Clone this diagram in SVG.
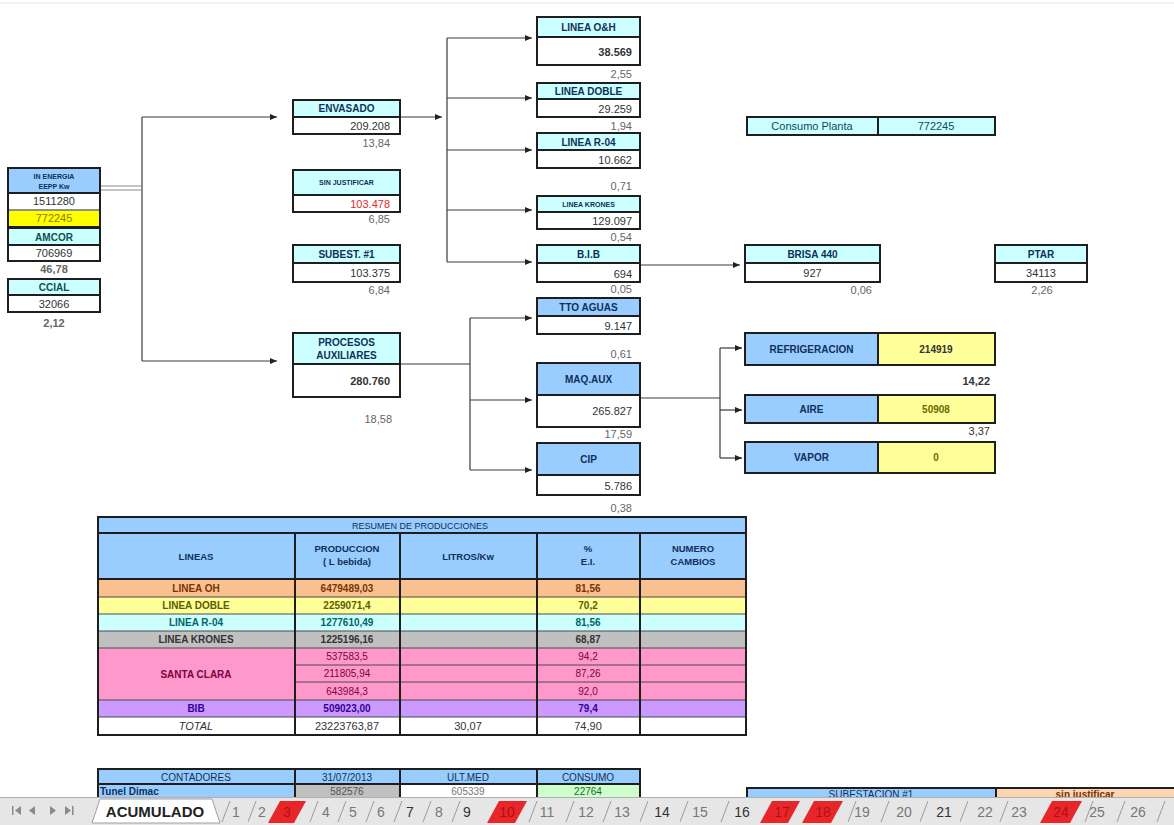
<svg xmlns="http://www.w3.org/2000/svg" width="1174" height="825" viewBox="0 0 1174 825">
<style>
text{font-family:"Liberation Sans",Arial,sans-serif}
.bx{stroke:#1e1e1e;stroke-width:2}
.cy{fill:#ccffff}
.bl{fill:#99ccff}
.wh{fill:#ffffff}
.ye{fill:#ffff99}
.lb{font-size:10px;font-weight:bold;fill:#10305a;text-anchor:middle}
.lbs{font-size:7px;font-weight:bold;fill:#10305a;text-anchor:middle}
.nv{font-size:11px;fill:#333;text-anchor:end}
.nc{font-size:11px;fill:#333;text-anchor:middle}
.pc{font-size:11px;fill:#666;text-anchor:end}
.pcc{font-size:11px;fill:#666;text-anchor:middle}
.cn{fill:none;stroke:#3a3a3a;stroke-width:1.2}
.th{font-size:9.5px;font-weight:bold;fill:#10305a;text-anchor:middle}
.tr{font-size:10px;font-weight:bold;text-anchor:middle}
.tab{font-size:14px;fill:#777;text-anchor:middle}
.sep{stroke:#9a9a9a;stroke-width:1}
.rt{fill:#e8262a}
</style>
<defs>
<marker id="ar" markerWidth="8" markerHeight="8" refX="7" refY="4" orient="auto" markerUnits="userSpaceOnUse">
<path d="M0,1 L7,4 L0,7 Z" fill="#222"/>
</marker>
</defs>
<rect width="1174" height="825" fill="#fff"/>
<line x1="0" y1="3" x2="1174" y2="3" stroke="#e3e3e3" stroke-width="1"/>

<g id="connectors">
<line x1="100" y1="186" x2="141" y2="186" stroke="#8a8a8a" stroke-width="1.2"/>
<line x1="100" y1="190" x2="141" y2="190" stroke="#8a8a8a" stroke-width="1.2"/>
<line class="cn" x1="142" y1="117" x2="142" y2="361"/>
<line class="cn" x1="142" y1="117" x2="277" y2="117" marker-end="url(#ar)"/>
<line class="cn" x1="142" y1="361" x2="277" y2="361" marker-end="url(#ar)"/>
<line class="cn" x1="400" y1="117" x2="442" y2="117" marker-end="url(#ar)"/>
<line class="cn" x1="447" y1="38" x2="447" y2="262"/>
<line class="cn" x1="447" y1="38" x2="532" y2="38" marker-end="url(#ar)"/>
<line class="cn" x1="447" y1="98" x2="532" y2="98" marker-end="url(#ar)"/>
<line class="cn" x1="447" y1="150" x2="532" y2="150" marker-end="url(#ar)"/>
<line class="cn" x1="447" y1="210" x2="532" y2="210" marker-end="url(#ar)"/>
<line class="cn" x1="447" y1="262" x2="532" y2="262" marker-end="url(#ar)"/>
<line class="cn" x1="640" y1="265" x2="740" y2="265" marker-end="url(#ar)"/>
<line class="cn" x1="400" y1="364" x2="470" y2="364"/>
<line class="cn" x1="470" y1="318" x2="470" y2="470"/>
<line class="cn" x1="470" y1="318" x2="532" y2="318" marker-end="url(#ar)"/>
<line class="cn" x1="470" y1="400" x2="532" y2="400" marker-end="url(#ar)"/>
<line class="cn" x1="470" y1="470" x2="532" y2="470" marker-end="url(#ar)"/>
<line class="cn" x1="640" y1="398" x2="720" y2="398"/>
<line class="cn" x1="720" y1="348" x2="720" y2="458"/>
<line class="cn" x1="720" y1="348" x2="742" y2="348" marker-end="url(#ar)"/>
<line class="cn" x1="720" y1="410" x2="742" y2="410" marker-end="url(#ar)"/>
<line class="cn" x1="720" y1="458" x2="742" y2="458" marker-end="url(#ar)"/>
</g>

<g id="in-energia">
<rect class="bx wh" x="8" y="168" width="92" height="59"/>
<rect class="bx bl" x="8" y="168" width="92" height="25"/>
<rect x="9" y="211" width="90" height="15" fill="#ffff00"/>
<line x1="8" y1="210" x2="100" y2="210" stroke="#1e1e1e" stroke-width="1"/>
<text class="lbs" x="54" y="179" font-size="6.5">IN ENERGIA</text>
<text class="lbs" x="54" y="189" font-size="6.5">EEPP Kw</text>
<text class="nc" x="54" y="205">1511280</text>
<text class="nc" x="54" y="222" fill="#8a7a00" style="fill:#8a7a00">772245</text>
</g>
<g id="amcor">
<rect class="bx wh" x="8" y="228" width="92" height="33"/>
<rect class="bx cy" x="8" y="228" width="92" height="17"/>
<text class="lb" x="54" y="241" style="fill:#0d5050">AMCOR</text>
<text class="nc" x="54" y="257">706969</text>
<text class="pcc" x="54" y="273" style="font-weight:bold">46,78</text>
</g>
<g id="ccial">
<rect class="bx wh" x="8" y="279" width="92" height="33"/>
<rect class="bx cy" x="8" y="279" width="92" height="16"/>
<text class="lb" x="54" y="291" style="fill:#0d5050">CCIAL</text>
<text class="nc" x="54" y="308">32066</text>
<text class="pcc" x="54" y="327" style="font-weight:bold">2,12</text>
</g>

<g id="envasado">
<rect class="bx wh" x="293" y="100" width="107" height="34"/>
<rect class="bx cy" x="293" y="100" width="107" height="17"/>
<text class="lb" x="346.5" y="112">ENVASADO</text>
<text class="nv" x="390" y="130">209.208</text>
<text class="pc" x="390" y="147">13,84</text>
</g>
<g id="sin-justificar">
<rect class="bx wh" x="293" y="170" width="107" height="42"/>
<rect class="bx cy" x="293" y="170" width="107" height="25"/>
<text class="lbs" x="346.5" y="185">SIN JUSTIFICAR</text>
<text class="nv" x="390" y="208" style="fill:#e8262a">103.478</text>
<text class="pc" x="390" y="223">6,85</text>
</g>
<g id="subest1">
<rect class="bx wh" x="293" y="245" width="107" height="37"/>
<rect class="bx cy" x="293" y="245" width="107" height="18"/>
<text class="lb" x="346.5" y="258">SUBEST. #1</text>
<text class="nv" x="390" y="277">103.375</text>
<text class="pc" x="390" y="294">6,84</text>
</g>
<g id="procesos-auxiliares">
<rect class="bx wh" x="293" y="333" width="107" height="64"/>
<rect class="bx cy" x="293" y="333" width="107" height="31"/>
<text class="lb" x="346.5" y="346">PROCESOS</text>
<text class="lb" x="346.5" y="359">AUXILIARES</text>
<text class="nv" x="390" y="385" style="font-weight:bold">280.760</text>
<text class="pc" x="392" y="423">18,58</text>
</g>

<g id="linea-oh">
<rect class="bx wh" x="537" y="17" width="103" height="48"/>
<rect class="bx cy" x="537" y="17" width="103" height="20"/>
<text class="lb" x="588.5" y="31">LINEA O&amp;H</text>
<text class="nv" x="632" y="56" style="font-weight:bold">38.569</text>
<text class="pc" x="632" y="78">2,55</text>
</g>
<g id="linea-doble">
<rect class="bx wh" x="537" y="83" width="103" height="34"/>
<rect class="bx cy" x="537" y="83" width="103" height="16"/>
<text class="lb" x="588.5" y="95">LINEA DOBLE</text>
<text class="nv" x="632" y="113">29.259</text>
<text class="pc" x="632" y="130">1,94</text>
</g>
<g id="linea-r04">
<rect class="bx wh" x="537" y="133" width="103" height="35"/>
<rect class="bx cy" x="537" y="133" width="103" height="17"/>
<text class="lb" x="588.5" y="146">LINEA R-04</text>
<text class="nv" x="632" y="164">10.662</text>
<text class="pc" x="632" y="190">0,71</text>
</g>
<g id="linea-krones">
<rect class="bx wh" x="537" y="196" width="103" height="33"/>
<rect class="bx cy" x="537" y="196" width="103" height="16"/>
<text class="lbs" x="588.5" y="207">LINEA KRONES</text>
<text class="nv" x="632" y="225">129.097</text>
<text class="pc" x="632" y="241">0,54</text>
</g>
<g id="bib">
<rect class="bx wh" x="537" y="245" width="103" height="37"/>
<rect class="bx cy" x="537" y="245" width="103" height="18"/>
<text class="lb" x="588.5" y="258">B.I.B</text>
<text class="nv" x="632" y="278">694</text>
<text class="pc" x="632" y="293">0,05</text>
</g>
<g id="tto-aguas">
<rect class="bx wh" x="537" y="298" width="103" height="36"/>
<rect class="bx bl" x="537" y="298" width="103" height="18"/>
<text class="lb" x="588.5" y="311">TTO AGUAS</text>
<text class="nv" x="632" y="330">9.147</text>
<text class="pc" x="632" y="358">0,61</text>
</g>
<g id="maq-aux">
<rect class="bx wh" x="537" y="363" width="103" height="64"/>
<rect class="bx bl" x="537" y="363" width="103" height="32"/>
<text class="lb" x="588.5" y="383">MAQ.AUX</text>
<text class="nv" x="632" y="415">265.827</text>
<text class="pc" x="632" y="438">17,59</text>
</g>
<g id="cip">
<rect class="bx wh" x="537" y="443" width="103" height="52"/>
<rect class="bx bl" x="537" y="443" width="103" height="32"/>
<text class="lb" x="588.5" y="463">CIP</text>
<text class="nv" x="632" y="490">5.786</text>
<text class="pc" x="632" y="512">0,38</text>
</g>

<g id="consumo-planta">
<rect class="bx cy" x="747" y="117" width="248" height="18"/>
<line x1="878" y1="117" x2="878" y2="135" stroke="#1e1e1e" stroke-width="2"/>
<text x="812" y="130" font-size="11" fill="#0d4a5a" text-anchor="middle">Consumo Planta</text>
<text x="936" y="130" font-size="11" fill="#0d4a5a" text-anchor="middle">772245</text>
</g>
<g id="brisa-440">
<rect class="bx wh" x="745" y="245" width="135" height="37"/>
<rect class="bx cy" x="745" y="245" width="135" height="18"/>
<text class="lb" x="812.5" y="258">BRISA 440</text>
<text class="nc" x="812.5" y="277">927</text>
<text class="pc" x="872" y="294">0,06</text>
</g>
<g id="ptar">
<rect class="bx wh" x="995" y="245" width="92" height="37"/>
<rect class="bx cy" x="995" y="245" width="92" height="18"/>
<text class="lb" x="1041" y="258">PTAR</text>
<text class="nc" x="1041" y="277">34113</text>
<text class="pcc" x="1042" y="294">2,26</text>
</g>
<g id="refrigeracion">
<rect class="bx ye" x="745" y="333" width="250" height="32"/>
<rect class="bx bl" x="745" y="333" width="133" height="32"/>
<text class="lb" x="811.5" y="353">REFRIGERACION</text>
<text class="lb" x="936" y="353" style="fill:#333">214919</text>
<text class="pc" x="990" y="385" style="font-weight:bold;fill:#333">14,22</text>
</g>
<g id="aire">
<rect class="bx ye" x="745" y="395" width="250" height="28"/>
<rect class="bx bl" x="745" y="395" width="133" height="28"/>
<text class="lb" x="811.5" y="413">AIRE</text>
<text class="lb" x="936" y="413" style="fill:#6a6a00">50908</text>
<text class="pc" x="990" y="435" style="fill:#333">3,37</text>
</g>
<g id="vapor">
<rect class="bx ye" x="745" y="442" width="250" height="31"/>
<rect class="bx bl" x="745" y="442" width="133" height="31"/>
<text class="lb" x="811.5" y="461">VAPOR</text>
<text class="lb" x="936" y="461" style="fill:#6a6a00">0</text>
</g>

<g id="resumen-producciones">
<rect x="98" y="517" width="648" height="62" fill="#99ccff"/>
<rect x="98" y="579" width="648" height="18" fill="#fac090"/>
<rect x="98" y="597" width="648" height="17" fill="#ffff99"/>
<rect x="98" y="614" width="648" height="17" fill="#ccffff"/>
<rect x="98" y="631" width="648" height="17" fill="#c0c0c0"/>
<rect x="98" y="648" width="648" height="52" fill="#ff99cc"/>
<rect x="98" y="700" width="648" height="17" fill="#cc99ff"/>
<rect x="98" y="717" width="648" height="18" fill="#ffffff"/>
<g stroke="#4a4a4a" stroke-width="1">
<line x1="98" y1="597" x2="746" y2="597"/>
<line x1="98" y1="614" x2="746" y2="614"/>
<line x1="98" y1="631" x2="746" y2="631"/>
<line x1="98" y1="648" x2="746" y2="648"/>
<line x1="295" y1="665" x2="746" y2="665"/>
<line x1="295" y1="682" x2="746" y2="682"/>
<line x1="98" y1="700" x2="746" y2="700"/>
<line x1="98" y1="717" x2="746" y2="717"/>
</g>
<g stroke="#1e1e1e" stroke-width="2" fill="none">
<rect x="98" y="517" width="648" height="218"/>
<line x1="98" y1="533" x2="746" y2="533"/>
<line x1="98" y1="579" x2="746" y2="579"/>
<line x1="295" y1="533" x2="295" y2="735"/>
<line x1="400" y1="533" x2="400" y2="735"/>
<line x1="537" y1="533" x2="537" y2="735"/>
<line x1="640" y1="533" x2="640" y2="735"/>
</g>
<text x="420" y="529" font-size="9" fill="#10305a" text-anchor="middle">RESUMEN DE PRODUCCIONES</text>
<text class="th" x="196" y="560">LINEAS</text>
<text class="th" x="347" y="552">PRODUCCION</text>
<text class="th" x="347" y="565">( L bebida)</text>
<text class="th" x="468" y="560">LITROS/Kw</text>
<text class="th" x="588" y="552">%</text>
<text class="th" x="588" y="565">E.I.</text>
<text class="th" x="693" y="552">NUMERO</text>
<text class="th" x="693" y="565">CAMBIOS</text>
<g class="tr" fill="#7a3300"><text x="196" y="592">LINEA OH</text><text x="347" y="592">6479489,03</text><text x="588" y="592">81,56</text></g>
<g class="tr" fill="#5c5c00"><text x="196" y="609">LINEA DOBLE</text><text x="347" y="609">2259071,4</text><text x="588" y="609">70,2</text></g>
<g class="tr" fill="#006666"><text x="196" y="626">LINEA R-04</text><text x="347" y="626">1277610,49</text><text x="588" y="626">81,56</text></g>
<g class="tr" fill="#333333"><text x="196" y="643">LINEA KRONES</text><text x="347" y="643">1225196,16</text><text x="588" y="643">68,87</text></g>
<g class="tr" fill="#800040"><text x="196" y="678">SANTA CLARA</text><text x="347" y="660" font-weight="normal">537583,5</text><text x="347" y="677" font-weight="normal">211805,94</text><text x="347" y="695" font-weight="normal">643984,3</text><text x="588" y="660" font-weight="normal">94,2</text><text x="588" y="677" font-weight="normal">87,26</text><text x="588" y="695" font-weight="normal">92,0</text></g>
<g class="tr" fill="#330099"><text x="196" y="712">BIB</text><text x="347" y="712">509023,00</text><text x="588" y="712">79,4</text></g>
<g font-size="11" fill="#333" text-anchor="middle"><text x="196" y="730" font-style="italic">TOTAL</text><text x="347" y="730">23223763,87</text><text x="468" y="730">30,07</text><text x="588" y="730">74,90</text></g>
</g>

<g id="contadores">
<rect x="98" y="769" width="542" height="15" fill="#99ccff"/>
<rect x="98" y="784" width="197" height="13" fill="#99ccff"/>
<rect x="295" y="784" width="105" height="13" fill="#c0c0c0"/>
<rect x="537" y="784" width="103" height="13" fill="#ccffcc"/>
<g stroke="#1e1e1e" stroke-width="2" fill="none">
<polyline points="98,797 98,769 640,769 640,797"/>
<line x1="98" y1="784" x2="640" y2="784"/>
<line x1="295" y1="769" x2="295" y2="797"/>
<line x1="400" y1="769" x2="400" y2="797"/>
<line x1="537" y1="769" x2="537" y2="797"/>
</g>
<g font-size="10" fill="#10305a" text-anchor="middle"><text x="196" y="781">CONTADORES</text><text x="347" y="781">31/07/2013</text><text x="468" y="781">ULT.MED</text><text x="588" y="781">CONSUMO</text></g>
<text x="100" y="795" font-size="10" font-weight="bold" fill="#10305a">Tunel Dimac</text>
<g font-size="10" text-anchor="middle"><text x="347" y="795" fill="#555">582576</text><text x="468" y="795" fill="#777">605339</text><text x="588" y="795" fill="#1a6a1a">22764</text></g>
</g>
<g id="subestacion-sin-justificar">
<rect x="747" y="788" width="249" height="9" fill="#99ccff"/>
<rect x="996" y="788" width="178" height="9" fill="#fcd5b4"/>
<polyline points="747,797 747,788 1174,788" fill="none" stroke="#1e1e1e" stroke-width="2"/>
<line x1="996" y1="788" x2="996" y2="797" stroke="#1e1e1e" stroke-width="2"/>
<text x="871" y="798" font-size="10" fill="#10305a" text-anchor="middle">SUBESTACION #1</text>
<text x="1085" y="798" font-size="10" font-weight="bold" fill="#7a3300" text-anchor="middle">sin justificar</text>
</g>

<g id="tab-bar">
<rect x="0" y="797" width="1174" height="28" fill="#e6e6e6"/>
<line x1="0" y1="797.5" x2="1174" y2="797.5" stroke="#b0b0b0"/>
<g fill="#8a8a8a">
<rect x="12" y="806" width="1.5" height="9"/><polygon points="21,806 21,815 15,810.5"/>
<polygon points="35,806 35,815 29,810.5"/>
<polygon points="50,806 50,815 56,810.5"/>
<polygon points="65,806 65,815 71,810.5"/><rect x="72" y="806" width="1.5" height="9"/>
</g>
<polygon points="92,823 100,799 212,799 220,823" fill="#ffffff" stroke="#a0a0a0"/>
<text x="155" y="817" font-size="15" font-weight="bold" fill="#222" text-anchor="middle">ACUMULADO</text>
<polygon class="rt" points="268,823 280,801 306,801 294,823"/>
<polygon class="rt" points="487,823 499,801 527,801 515,823"/>
<polygon class="rt" points="760,823 772,801 800,801 788,823"/>
<polygon class="rt" points="802,823 814,801 843,801 831,823"/>
<polygon class="rt" points="1040,823 1052,801 1082,801 1070,823"/>
<g class="sep">
<line x1="222" y1="822" x2="230" y2="801"/><line x1="248" y1="822" x2="256" y2="801"/>
<line x1="310" y1="822" x2="318" y2="801"/><line x1="338" y1="822" x2="346" y2="801"/>
<line x1="366" y1="822" x2="374" y2="801"/><line x1="394" y1="822" x2="402" y2="801"/>
<line x1="423" y1="822" x2="431" y2="801"/><line x1="452" y1="822" x2="460" y2="801"/>
<line x1="529" y1="822" x2="537" y2="801"/><line x1="566" y1="822" x2="574" y2="801"/>
<line x1="603" y1="822" x2="611" y2="801"/><line x1="640" y1="822" x2="648" y2="801"/>
<line x1="680" y1="822" x2="688" y2="801"/><line x1="721" y1="822" x2="729" y2="801"/>
<line x1="848" y1="822" x2="856" y2="801"/><line x1="881" y1="822" x2="889" y2="801"/>
<line x1="920" y1="822" x2="928" y2="801"/><line x1="960" y1="822" x2="968" y2="801"/>
<line x1="1000" y1="822" x2="1008" y2="801"/><line x1="1085" y1="822" x2="1093" y2="801"/>
<line x1="1117" y1="822" x2="1125" y2="801"/><line x1="1157" y1="822" x2="1165" y2="801"/>
</g>
<g class="tab">
<text x="236" y="817">1</text><text x="262" y="817">2</text><text x="287" y="817" fill="#b01010">3</text>
<text x="326" y="817">4</text><text x="353" y="817">5</text><text x="381" y="817">6</text>
<text x="410" y="817" fill="#333">7</text><text x="439" y="817">8</text><text x="467" y="817" fill="#333">9</text>
<text x="507" y="817" fill="#b01010">10</text><text x="547" y="817">11</text><text x="586" y="817">12</text>
<text x="622" y="817">13</text><text x="662" y="817" fill="#333">14</text><text x="700" y="817">15</text>
<text x="742" y="817" fill="#333">16</text><text x="782" y="817" fill="#b01010">17</text><text x="823" y="817" fill="#b01010">18</text>
<text x="862" y="817">19</text><text x="904" y="817">20</text><text x="944" y="817" fill="#333">21</text>
<text x="985" y="817">22</text><text x="1019" y="817">23</text><text x="1061" y="817" fill="#b01010">24</text>
<text x="1097" y="817">25</text><text x="1138" y="817">26</text>
</g>
</g>
</svg>
